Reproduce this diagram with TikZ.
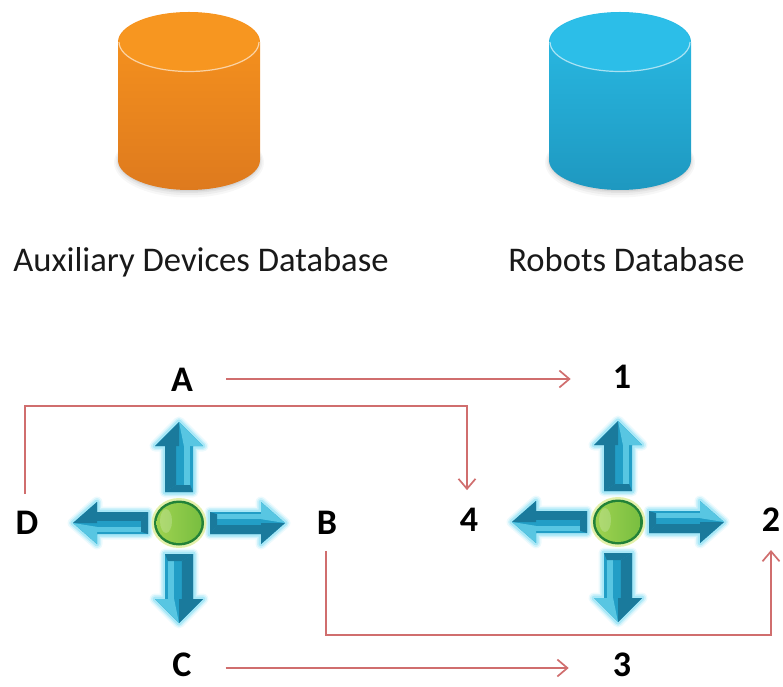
\documentclass[tikz,border=0pt]{standalone}
\usepackage{fontspec}
\setmainfont{Carlito}
\usetikzlibrary{arrows.meta,calc}

\definecolor{linkred}{RGB}{208,110,110}
\definecolor{arrowmid}{RGB}{34,158,198}
\definecolor{arrowdark}{RGB}{26,122,156}
\definecolor{arrowlight}{RGB}{88,198,226}
\definecolor{arrowglow}{RGB}{96,212,240}
\definecolor{hubhalo}{RGB}{228,240,170}
\definecolor{hubring}{RGB}{34,130,56}
\definecolor{hubleft}{RGB}{158,210,80}
\definecolor{hubright}{RGB}{120,190,64}
\definecolor{orangetop}{RGB}{248,148,30}
\definecolor{orangebot}{RGB}{222,122,30}
\definecolor{orangelid}{RGB}{247,150,32}
\definecolor{bluetop}{RGB}{42,188,230}
\definecolor{bluebot}{RGB}{30,152,192}
\definecolor{bluelid}{RGB}{44,190,232}

\tikzset{
  letter/.style={font=\fontsize{36}{36}\selectfont\bfseries,inner sep=0pt},
  caption/.style={font=\fontsize{34.6}{35}\selectfont,inner sep=0pt,anchor=base,text=black!90},
  link/.style={draw=linkred,line width=1.7pt,-{Straight Barb[length=10pt,width=17pt]}},
}

% one blue arrow of a hub: centre, angle, mirror, shaft half, head half, tip distance
\newcommand{\hubarrow}[6]{
\begin{scope}[shift={(#1)},rotate=#2,yscale=#3]
\path[save path=\arrowpath] (31,-#4) -- (#6-24,-#4) -- (#6-24,-#5) -- (#6,0) -- (#6-24,#5) -- (#6-24,#4) -- (31,#4) -- cycle;
\foreach \w/\o in {11/0.12,8/0.2,5/0.35}
  \draw[use path=\arrowpath,arrowglow,line width=\w pt,opacity=\o,line join=round];
\fill[use path=\arrowpath,arrowmid];
\fill[arrowlight] (38,-#4*0.8) -- (#6-24,-#4*0.8) -- (#6-24,-#4*0.35) -- (38,-#4*0.35) -- cycle;
\fill[arrowdark] (31,#4) -- (#6-24,#4) -- (#6-24,#4*0.2) -- (38,#4*0.2) -- cycle;
\fill[arrowdark] (31,-#4) -- (38,-#4*0.8) -- (38,#4*0.2) -- (31,#4) -- cycle;
\fill[arrowdark] (#6-24,#5) -- (#6,0) -- (#6-24,0) -- cycle;
\fill[arrowlight] (#6-24,-#5) -- (#6,0) -- (#6-24,-#4*0.35) -- cycle;
\end{scope}
}

% a hub: centre
\newcommand{\hub}[1]{
\hubarrow{#1}{90}{1}{14}{24}{101}
\hubarrow{#1}{270}{1}{14}{24}{100}
\hubarrow{#1}{0}{-1}{11}{21}{106}
\hubarrow{#1}{180}{-1}{11}{21}{106}
\fill[hubhalo] (#1) ellipse [x radius=27.5,y radius=25];
\fill[hubring] (#1) ellipse [x radius=25,y radius=22.5];
\shade[left color=hubleft,right color=hubright] (#1) ellipse [x radius=22.5,y radius=20];
\fill[white,opacity=0.2] ($(#1)+(-13,2)$) ellipse [x radius=6,y radius=12];
}

% a database: centre x, body colours top and bottom, lid colour
\newcommand{\dbcylinder}[4]{
\foreach \g/\o in {10/0.03,7/0.04,4/0.05,2/0.06}
  \fill[black,opacity=\o] (#1,526-\g/4) ellipse [x radius=70+\g/2,y radius=30+\g/2];
\shade[top color=#2,bottom color=#3] (#1-71,644) -- (#1-71,526) arc [start angle=180,end angle=360,x radius=71,y radius=30] -- (#1+71,644) arc [start angle=0,end angle=180,x radius=71,y radius=30] -- cycle;
\fill[#4] (#1,644) ellipse [x radius=70,y radius=29.5];
\draw[white,opacity=0.6,line width=1.2pt] (#1-70,644) arc [start angle=180,end angle=360,x radius=70,y radius=29.5];
}

\begin{document}
\begin{tikzpicture}[x=1pt,y=1pt]

\useasboundingbox (0,0) rectangle (783,686);

\dbcylinder{189}{orangetop}{orangebot}{orangelid}
\dbcylinder{620}{bluetop}{bluebot}{bluelid}

\node[caption] (aux) at (201,414) {Auxiliary Devices Database};
\node[caption] (robots) at (626.5,414) {Robots Database};

\hub{179,163}
\hub{618,164}

\node[letter] (A) at (182,306) {A};
\node[letter] (n1) at (622,309) {1};
\node[letter] (D) at (27,163) {D};
\node[letter] (n4) at (469,166) {4};
\node[letter] (B) at (327,163) {B};
\node[letter] (n2) at (771,166) {2};
\node[letter] (C) at (182,21) {C};
\node[letter] (n3) at (622,21) {3};

\coordinate (up4) at (467,280);
\coordinate (dn2) at (771,51);

\draw[link,shorten <=33pt,shorten >=42pt] ([yshift=1pt]A.east) -- ([yshift=1pt]A.east -| n1.west);
\draw[link,shorten <=34pt,shorten >=44pt] ([yshift=-3pt]C.east) -- ([yshift=-3pt]C.east -| n3.west);
\draw[link,shorten >=18pt] ([xshift=-2pt,yshift=17pt]D.north) |- (up4) -- (up4 |- n4.north);
\draw[link] ([xshift=-1pt,yshift=-16pt]B.south) |- (dn2) -- ([yshift=-18pt]n2.south);

\end{tikzpicture}
\end{document}
